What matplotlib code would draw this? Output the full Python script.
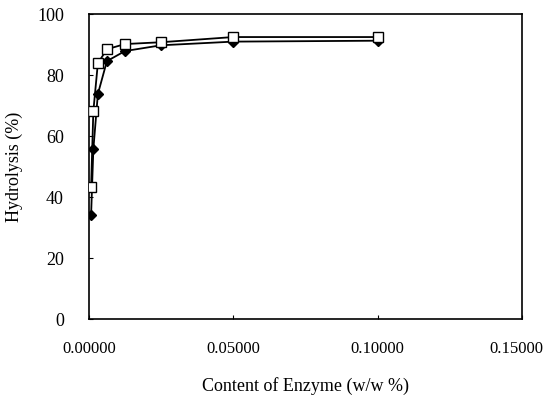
import matplotlib
matplotlib.use("Agg")
import matplotlib.pyplot as plt
import matplotlib.transforms as mtransforms

enzyme = [0.00078, 0.00156, 0.003125, 0.00625, 0.0125, 0.025, 0.05, 0.1]
series_square = [43.3, 68.2, 83.9, 88.5, 90.2, 90.8, 92.5, 92.5]
series_diamond = [34.1, 55.7, 73.8, 84.6, 87.9, 89.8, 91.0, 91.3]
xticks = [0.0, 0.05, 0.10, 0.15]
xticklabels = ["0.00000", "0.05000", "0.10000", "0.15000"]
yticks = [0, 20, 40, 60, 80, 100]

plt.rcParams['font.family'] = ['Liberation Serif', 'DejaVu Serif']

fig = plt.figure(figsize=(5.45, 4.05), dpi=100)
ax = fig.add_axes([0.163, 0.212, 0.795, 0.753])

ax.plot(enzyme, series_diamond, color='black', lw=1.3, marker='D',
        markersize=5, markerfacecolor='black', markeredgecolor='black', zorder=3)
ax.plot(enzyme, series_square, color='black', lw=1.3, marker='s',
        markersize=7, markerfacecolor='white', markeredgecolor='black',
        markeredgewidth=1.0, zorder=4)

ax.set_xlim(0, 0.15)
ax.set_ylim(0, 100)
ax.set_xticks(xticks)
ax.set_xticklabels(xticklabels)
ax.set_yticks(yticks)
ax.tick_params(direction='in', length=3, width=0.8, labelsize=13)
ax.tick_params(axis='x', pad=16, labelsize=12)
ax.tick_params(axis='y', pad=18)
for s in ax.spines.values():
    s.set_linewidth(1.2)

# nudge the last x tick label left so it stays inside the figure
last = ax.get_xticklabels()[-1]
last.set_transform(last.get_transform() +
                   mtransforms.ScaledTranslation(-6 / 100, 0, fig.dpi_scale_trans))

ax.set_xlabel("Content of Enzyme (w/w %)", fontsize=13, labelpad=14)
ax.set_ylabel("Hydrolysis (%)", fontsize=13, labelpad=10)

fig.savefig("out.png", dpi=100)
